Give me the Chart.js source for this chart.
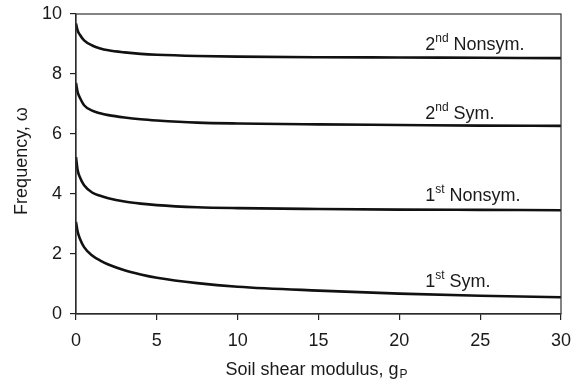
<!DOCTYPE html>
<html>
<head>
    <title>Frequency vs soil shear modulus</title>
    <style>
        html, body { margin: 0; padding: 0; background: #fff; }
        #wrap { width: 571px; height: 382px; }
    </style>
    <script src="https://cdn.jsdelivr.net/npm/chart.js"></script>
</head>
<body>
    <div id="wrap"><canvas id="chart" width="571" height="382"></canvas></div>

    <script>
        // Soil shear modulus g_P (x values)
        const gP = [0, 0.1, 0.25, 0.5, 1, 1.5, 2, 3, 4, 5, 7.5, 10, 15, 20, 25, 30];

        // Frequency curves
        const nonsym2 = [9.68, 9.45, 9.30, 9.12, 8.95, 8.85, 8.79, 8.72, 8.67, 8.64, 8.60, 8.58, 8.56, 8.55, 8.54, 8.53];
        const sym2    = [7.70, 7.40, 7.20, 6.96, 6.78, 6.69, 6.63, 6.55, 6.49, 6.45, 6.38, 6.35, 6.32, 6.30, 6.28, 6.27];
        const nonsym1 = [5.23, 4.80, 4.55, 4.29, 4.05, 3.94, 3.86, 3.75, 3.68, 3.63, 3.56, 3.53, 3.50, 3.48, 3.47, 3.46];
        const sym1    = [3.07, 2.75, 2.50, 2.23, 1.95, 1.78, 1.65, 1.46, 1.32, 1.21, 1.03, 0.91, 0.78, 0.68, 0.61, 0.56];

        // Curve labels: ordinal, superscript, name, anchor (data units)
        const curveLabels = [
            ['2', 'nd', ' Nonsym.', 21.6, 8.79],
            ['2', 'nd', ' Sym.', 21.6, 6.51],
            ['1', 'st', ' Nonsym.', 21.6, 3.77],
            ['1', 'st', ' Sym.', 21.6, 0.90]
        ];

        const xTicks = [0, 5, 10, 15, 20, 25, 30];
        const yTicks = [0, 2, 4, 6, 8, 10];

        const FONT = '"Liberation Sans", Arial, sans-serif';
        const ink = '#1a1a1a';

        function series(ys) {
            return ys.map((y, i) => ({ x: gP[i], y: y }));
        }

        // frame + curve labels + axis titles
        const extras = {
            id: 'extras',
            afterDraw(chart) {
                const ctx = chart.ctx;
                const a = chart.chartArea;
                const xs = chart.scales.x, ys = chart.scales.y;
                ctx.save();
                ctx.strokeStyle = '#333';
                ctx.lineWidth = 1.2;
                ctx.strokeRect(a.left, a.top, a.right - a.left, a.bottom - a.top);

                ctx.fillStyle = ink;
                ctx.textBaseline = 'alphabetic';
                ctx.textAlign = 'left';
                curveLabels.forEach(l => {
                    let px = xs.getPixelForValue(l[3]);
                    const py = ys.getPixelForValue(l[4]);
                    ctx.font = '18px ' + FONT;
                    ctx.fillText(l[0], px, py);
                    px += ctx.measureText(l[0]).width;
                    ctx.font = '12px ' + FONT;
                    ctx.fillText(l[1], px, py - 8);
                    px += ctx.measureText(l[1]).width;
                    ctx.font = '18px ' + FONT;
                    ctx.fillText(l[2], px, py);
                });

                // x title with subscript P
                const main = 'Soil shear modulus, g';
                ctx.font = '18px ' + FONT;
                const w1 = ctx.measureText(main).width;
                ctx.font = '12px ' + FONT;
                const w2 = ctx.measureText('P').width;
                let tx = 316 - (w1 + w2) / 2;
                ctx.font = '18px ' + FONT;
                ctx.fillText(main, tx, 375);
                ctx.font = '12px ' + FONT;
                ctx.fillText('P', tx + w1 + 1, 378);

                // y title
                ctx.translate(22, 161);
                ctx.rotate(-Math.PI / 2);
                ctx.textAlign = 'center';
                ctx.textBaseline = 'middle';
                ctx.font = '18px ' + FONT;
                ctx.fillText('Frequency, \u03c9', 0, 0);
                ctx.restore();
            }
        };

        const lineStyle = {
            borderColor: '#111',
            borderWidth: 2.6,
            pointRadius: 0,
            fill: false,
            cubicInterpolationMode: 'monotone'
        };

        new Chart(document.getElementById('chart'), {
            type: 'line',
            data: {
                datasets: [
                    Object.assign({ label: '2nd Nonsym.', data: series(nonsym2) }, lineStyle),
                    Object.assign({ label: '2nd Sym.', data: series(sym2) }, lineStyle),
                    Object.assign({ label: '1st Nonsym.', data: series(nonsym1) }, lineStyle),
                    Object.assign({ label: '1st Sym.', data: series(sym1) }, lineStyle)
                ]
            },
            options: {
                responsive: false,
                animation: false,
                layout: { padding: { top: 14, right: 10, left: 0, bottom: 0 } },
                plugins: {
                    legend: { display: false },
                    tooltip: { enabled: false }
                },
                scales: {
                    x: {
                        type: 'linear',
                        min: 0,
                        max: 30,
                        afterBuildTicks: s => { s.ticks = xTicks.map(v => ({ value: v })); },
                        afterFit: s => { s.height = 68; s.paddingLeft = 0; s.paddingRight = 0; },
                        grid: { drawOnChartArea: false, drawTicks: true, tickLength: 6, color: '#222', lineWidth: 1.2 },
                        border: { color: '#222', width: 1.2 },
                        ticks: { color: ink, font: { family: FONT, size: 18 }, padding: 10, maxRotation: 0 }
                    },
                    y: {
                        min: 0,
                        max: 10,
                        afterBuildTicks: s => { s.ticks = yTicks.map(v => ({ value: v })); },
                        afterFit: s => { s.width = 76; s.paddingTop = 0; s.paddingBottom = 0; },
                        grid: { drawOnChartArea: false, drawTicks: true, tickLength: 6, color: '#222', lineWidth: 1.2 },
                        border: { color: '#222', width: 1.2 },
                        ticks: { color: ink, font: { family: FONT, size: 18 }, padding: 8 }
                    }
                }
            },
            plugins: [extras]
        });
    </script>
</body>
</html>
